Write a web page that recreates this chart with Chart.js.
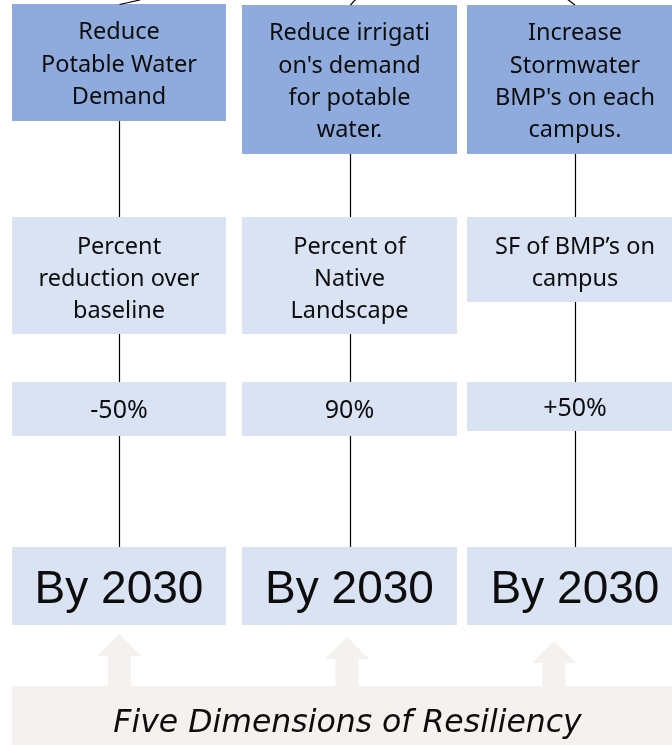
<!DOCTYPE html>
<html><head><meta charset="utf-8">
<script src="https://cdn.jsdelivr.net/npm/chart.js@4"></script>
<style>html,body{margin:0;padding:0;background:#fff;overflow:hidden}#wrap{width:672px;height:745px;position:relative}</style>
</head><body><div id="wrap"><canvas id="c"></canvas></div>
<script>
// ---- content (text of each box, per column) ----
const goals = [
  ['Reduce', 'Potable Water', 'Demand'],
  ['Reduce irrigati', "on's demand", 'for potable', 'water.'],
  ['Increase', 'Stormwater', "BMP's on each", 'campus.']
];
const metrics = [
  ['Percent', 'reduction over', 'baseline'],
  ['Percent of', 'Native', 'Landscape'],
  ['SF of BMP\u2019s on', 'campus']
];
const targets = ['-50%', '90%', '+50%'];
const deadlines = ['By 2030', 'By 2030', 'By 2030'];
const foundation = 'Five Dimensions of Resiliency';

// ---- layout (in scale units; scales span the 672 x 745 canvas) ----
const colLeft  = [12, 242, 467];
const colRight = [226, 457, 683];
const lineX    = [119.5, 350.5, 575.5];
const goalBox     = [[4,121],[5,154],[5,154]];
const metricBox   = [[217,334],[217,334],[217,302]];
const targetBox   = [[382,436],[382,436],[382,431]];
const deadlineBox = [[547,625],[547,625],[547,625]];
const arrowX   = [119.5, 347, 554];
const arrowTop = [634, 637, 641];
const bannerBox = {x0: 12, x1: 683, y0: 686, y1: 750};
const stubs = [[[119.5,4.5],[140,0]], [[350.5,5],[356,-1]], [[575,5],[567,-1]]];

const DARK = '#8faadc', LIGHT = '#dae3f3', SAND = '#f4f1ee', INK = '#0d0d0d';

// connector datasets (drawn by Chart.js as line segments)
const segs = [];
for (let i = 0; i < 3; i++) {
  segs.push([[lineX[i], goalBox[i][1]], [lineX[i], metricBox[i][0]]]);
  segs.push([[lineX[i], metricBox[i][1]], [lineX[i], targetBox[i][0]]]);
  segs.push([[lineX[i], targetBox[i][1]], [lineX[i], deadlineBox[i][0]]]);
  segs.push(stubs[i]);
}
const datasets = segs.map(s => ({
  data: s.map(p => ({x: p[0], y: p[1]})),
  showLine: true, borderColor: '#000', borderWidth: 1.2, pointRadius: 0, fill: false
}));

const diagram = {
  id: 'diagram',
  beforeDatasetsDraw(chart) {
    const {ctx, scales: {x, y}} = chart;
    const rect = (x0, y0, x1, y1, c) => {
      const px0 = x.getPixelForValue(x0), px1 = x.getPixelForValue(x1);
      const py0 = y.getPixelForValue(y0), py1 = y.getPixelForValue(y1);
      ctx.fillStyle = c;
      ctx.fillRect(px0, py0, px1 - px0, py1 - py0);
    };
    ctx.save();
    for (let i = 0; i < 3; i++) {
      rect(colLeft[i], goalBox[i][0], colRight[i], goalBox[i][1], DARK);
      rect(colLeft[i], metricBox[i][0], colRight[i], metricBox[i][1], LIGHT);
      rect(colLeft[i], targetBox[i][0], colRight[i], targetBox[i][1], LIGHT);
      rect(colLeft[i], deadlineBox[i][0], colRight[i], deadlineBox[i][1], LIGHT);
      // arrow
      const cx = arrowX[i], t = arrowTop[i];
      const pts = [[cx, t], [cx + 22, t + 22], [cx + 11.5, t + 22], [cx + 11.5, bannerBox.y0],
                   [cx - 11.5, bannerBox.y0], [cx - 11.5, t + 22], [cx - 22, t + 22]];
      ctx.beginPath();
      pts.forEach((p, k) => {
        const px = x.getPixelForValue(p[0]), py = y.getPixelForValue(p[1]);
        k ? ctx.lineTo(px, py) : ctx.moveTo(px, py);
      });
      ctx.closePath();
      ctx.fillStyle = SAND;
      ctx.fill();
    }
    rect(bannerBox.x0, bannerBox.y0, bannerBox.x1, bannerBox.y1, SAND);
    ctx.restore();
  },
  afterDatasetsDraw(chart) {
    const {ctx, scales: {x, y}} = chart;
    ctx.save();
    ctx.fillStyle = INK;
    ctx.textAlign = 'center';
    ctx.textBaseline = 'alphabetic';
    const txt = (s, cx, by) => ctx.fillText(s, x.getPixelForValue(cx), y.getPixelForValue(by));
    for (let i = 0; i < 3; i++) {
      const cx = (colLeft[i] + colRight[i]) / 2;
      ctx.font = '23.5px "Noto Sans"';
      goals[i].forEach((l, k) => txt(l, cx, goalBox[i][0] + 35.3 + k * 32.2));
      metrics[i].forEach((l, k) => txt(l, cx, metricBox[i][0] + 36.5 + k * 32));
      ctx.font = '25px "Noto Sans"';
      txt(targets[i], cx, (targetBox[i][0] + targetBox[i][1]) / 2 + 9);
      ctx.font = '46px "Liberation Sans"';
      txt(deadlines[i], cx, (deadlineBox[i][0] + deadlineBox[i][1]) / 2 + 17);
    }
    ctx.font = 'italic 31.5px "DejaVu Sans"';
    txt(foundation, (bannerBox.x0 + bannerBox.x1) / 2, 732);
    ctx.restore();
  }
};

new Chart(document.getElementById('c'), {
  type: 'scatter',
  data: {datasets},
  options: {
    responsive: true, maintainAspectRatio: false, animation: false,
    layout: {padding: 0},
    plugins: {legend: {display: false}, tooltip: {enabled: false}},
    scales: {
      x: {type: 'linear', min: 0, max: 672, display: false},
      y: {type: 'linear', min: 0, max: 745, reverse: true, display: false}
    }
  },
  plugins: [diagram]
});
</script></body></html>
